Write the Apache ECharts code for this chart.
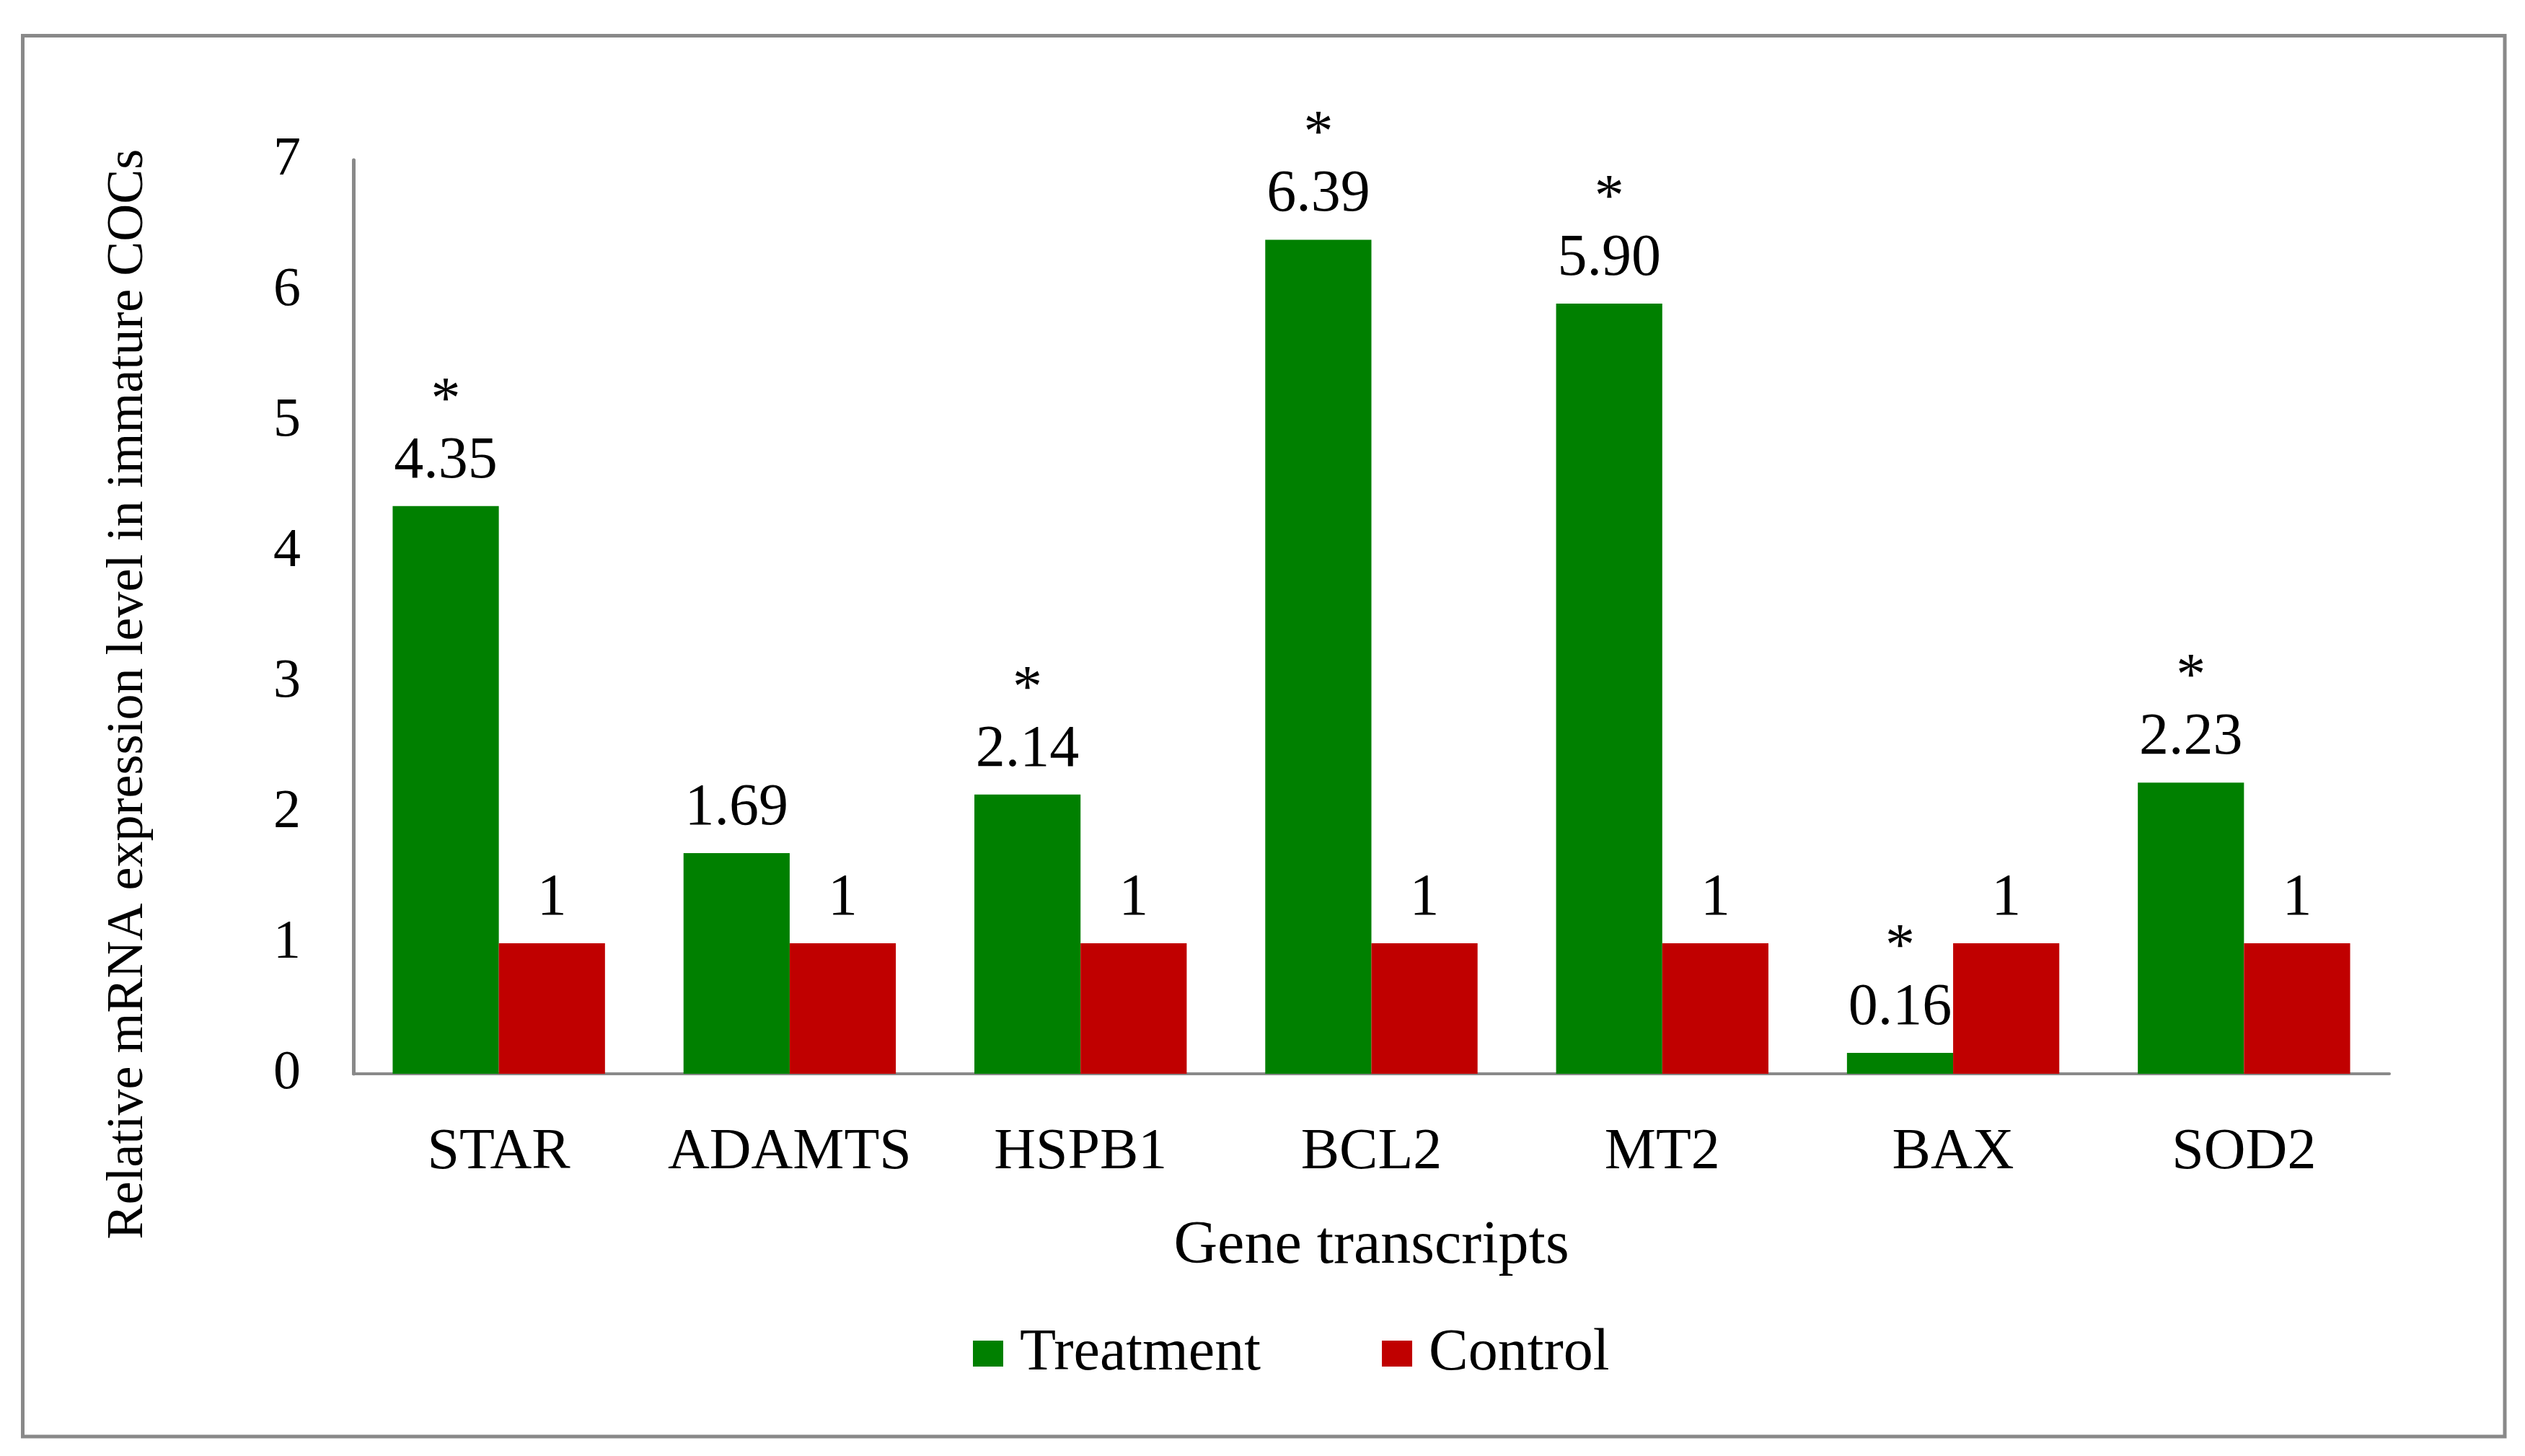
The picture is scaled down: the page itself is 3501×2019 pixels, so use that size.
<!DOCTYPE html>
<html>
<head>
<meta charset="utf-8">
<script src="https://cdn.jsdelivr.net/npm/echarts@6/dist/echarts.min.js"></script>
<style>
html, body { margin: 0; padding: 0; background: #ffffff; }
#chart { width: 3501px; height: 2019px; }
</style>
</head>
<body>
<div id="chart"></div>
<script>
var categories = ['STAR', 'ADAMTS', 'HSPB1', 'BCL2', 'MT2', 'BAX', 'SOD2'];
var treatment = [4.35, 1.69, 2.14, 6.39, 5.90, 0.16, 2.23];
var control = [1, 1, 1, 1, 1, 1, 1];
var significant = [true, false, true, true, true, true, true];
var yTicks = [0, 1, 2, 3, 4, 5, 6, 7];

var FONT = "'Liberation Serif', 'Times New Roman', serif";
var AXIS_GRAY = '#898989';

var chart = echarts.init(document.getElementById('chart'));
chart.setOption({
  backgroundColor: '#ffffff',
  animation: false,
  textStyle: { fontFamily: FONT, color: '#000' },
  graphic: [{
    type: 'rect',
    shape: { x: 31.5, y: 49.5, width: 3441.5, height: 1942.5 },
    style: { fill: 'none', stroke: AXIS_GRAY, lineWidth: 5 },
    silent: true
  }],
  grid: { left: 490, right: 188, top: 222, bottom: 530, containLabel: false },
  legend: {
    left: 1344,
    top: 1831,
    itemWidth: 42,
    itemHeight: 36,
    itemGap: 168,
    icon: 'rect',
    textStyle: { fontFamily: FONT, fontSize: 82, color: '#000', padding: [0, 0, 0, 18] },
    data: ['Treatment', 'Control']
  },
  xAxis: {
    type: 'category',
    data: categories,
    name: 'Gene transcripts',
    nameLocation: 'middle',
    nameGap: 198,
    nameTextStyle: { fontFamily: FONT, fontSize: 84, color: '#000' },
    axisLine: { lineStyle: { color: AXIS_GRAY, width: 4 } },
    axisTick: { show: false },
    axisLabel: { interval: 0, fontFamily: FONT, fontSize: 80, color: '#000', margin: 70 }
  },
  yAxis: {
    type: 'value',
    min: yTicks[0],
    max: yTicks[yTicks.length - 1],
    interval: 1,
    name: 'Relative mRNA expression level in immature COCs',
    nameLocation: 'middle',
    nameGap: 276,
    nameTextStyle: { fontFamily: FONT, fontSize: 72, color: '#000', padding: [0, 214, 0, 0] },
    axisLine: { show: true, lineStyle: { color: AXIS_GRAY, width: 5 } },
    axisTick: { show: false },
    splitLine: { show: false },
    axisLabel: { fontFamily: FONT, fontSize: 76, color: '#000', margin: 73 }
  },
  series: [{
    name: 'Treatment',
    type: 'bar',
    data: treatment,
    barGap: '0%',
    barCategoryGap: '27%',
    itemStyle: { color: '#008000' },
    label: {
      show: true,
      position: 'top',
      distance: 20,
      fontFamily: FONT,
      fontSize: 82,
      lineHeight: 83,
      color: '#000',
      formatter: function (p) {
        var v = p.value.toFixed(2);
        return significant[p.dataIndex] ? '*\n' + v : v;
      }
    }
  }, {
    name: 'Control',
    type: 'bar',
    data: control,
    itemStyle: { color: '#C00000' },
    label: {
      show: true,
      position: 'top',
      distance: 20,
      fontFamily: FONT,
      fontSize: 82,
      lineHeight: 83,
      color: '#000',
      formatter: function (p) { return String(p.value); }
    }
  }]
});
</script>
</body>
</html>
